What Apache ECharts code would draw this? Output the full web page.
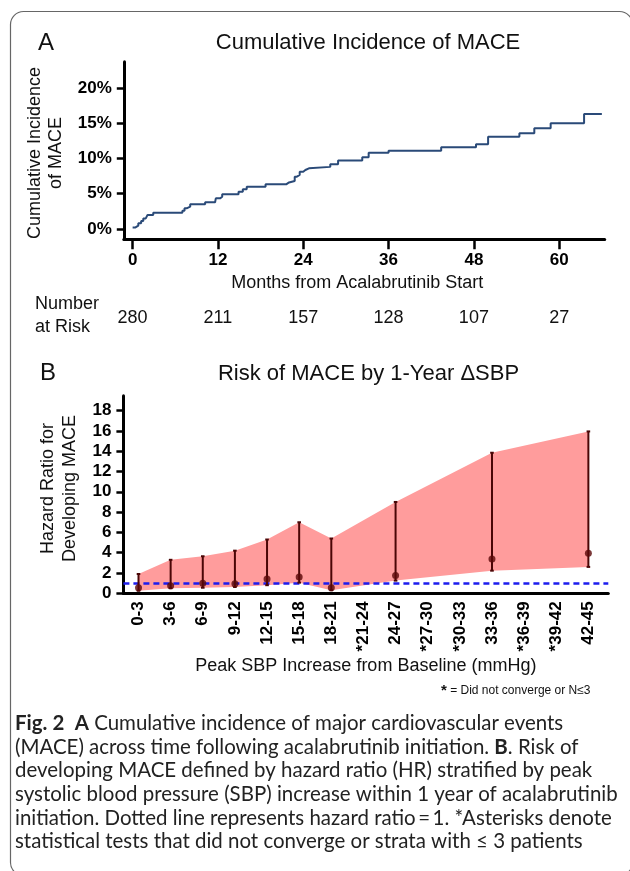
<!DOCTYPE html>
<html><head><meta charset="utf-8">
<script src="https://cdn.jsdelivr.net/npm/echarts@6/dist/echarts.min.js"></script>
<style>html,body{margin:0;padding:0;background:#fff}#c{width:630px;height:871px}</style>
</head><body><div id="c"></div>
<script>
// ---------- Panel A data ----------
const kmMonths = [0,0.35,0.8,1.2,1.5,1.85,2.1,2.9,7.0,7.3,7.6,8.1,10.2,11.6,11.7,12.3,12.6,14.9,15.5,16.05,18.7,21.6,22.0,22.8,23.1,23.5,24.0,24.3,24.8,27.8,28.9,32.3,33.2,36.0,43.4,48.3,50.0,54.4,56.5,58.8,63.5,66.0];
const kmIncidence = [0.2,0.47,0.8,1.13,1.5,1.75,2.0,2.3,2.6,2.93,3.16,3.49,3.78,4.05,4.34,4.58,4.91,5.29,5.62,6.0,6.33,6.6,6.8,7.41,7.65,8.12,8.36,8.59,8.8,9.16,9.7,10.15,10.81,11.1,11.57,12.0,13.08,13.55,14.26,14.97,16.29,16.29];
const monthTicks = [0,12,24,36,48,60];
const atRisk = [280,211,157,128,107,27];
const pctTicks = [0,5,10,15,20];

// ---------- Panel B data ----------
const sbpCategories = ['0-3','3-6','6-9','9-12','12-15','15-18','18-21','*21-24','24-27','*27-30','*30-33','33-36','*36-39','*39-42','42-45'];
const hrPoint = [0.55,0.75,0.98,0.95,1.4,1.6,0.55,null,1.75,null,null,3.38,null,null,3.94];
const hrLower = [0.25,0.5,0.55,0.62,0.8,1.05,0.3,null,1.25,null,null,2.23,null,null,2.6];
const hrUpper = [1.9,3.3,3.65,4.2,5.3,7.0,5.4,null,9.0,null,null,13.85,null,null,15.95];
const hrTicks = [0,2,4,6,8,10,12,14,16,18];
const hrReference = 1;

const FONT = "'Liberation Sans', Arial, sans-serif";
const kmData = kmMonths.map((m, i) => [m, kmIncidence[i]]);
const validIdx = sbpCategories.map((c, i) => i).filter(i => hrPoint[i] !== null);
const ciData = validIdx.map(i => [i, hrLower[i], hrUpper[i]]);
const ptData = validIdx.map(i => [i, hrPoint[i]]);
const catIdx = sbpCategories.map((c, i) => i);

// caption font fitting
const captionLines = [
  '{b|Fig. 2}  {b|A} Cumulative incidence of major cardiovascular events',
  '(MACE) across time following acalabrutinib initiation. {b|B}. Risk of',
  'developing MACE defined by hazard ratio (HR) stratified by peak',
  'systolic blood pressure (SBP) increase within 1 year of acalabrutinib',
  'initiation. Dotted line represents hazard ratio\u2009=\u20091. *Asterisks denote',
  'statistical tests that did not converge or strata with \u2264 3 patients'
];
const CAPFONT = 'Lato';
const cv = document.createElement('canvas').getContext('2d');
cv.font = '19px ' + CAPFONT;
const capSize = 19 * 603 / cv.measureText(captionLines[3]).width;

const chart = echarts.init(document.getElementById('c'), null, {renderer: 'canvas'});

const axisLineStyle = {show: true, onZero: false, lineStyle: {color: '#000', width: 3}};
const boldLabel = {fontFamily: FONT, fontWeight: 'bold', fontSize: 17, color: '#000'};
const nameStyle = {fontFamily: FONT, fontSize: 18, color: '#111'};

const graphics = [
  {type: 'rect', shape: {x: 10.5, y: 11.5, width: 622, height: 864, r: 13}, style: {fill: 'none', stroke: '#666', lineWidth: 1.2}, silent: true},
  {type: 'text', x: 38, y: 43, style: {text: 'A', font: '24px ' + FONT, fill: '#111', verticalAlign: 'middle'}},
  {type: 'text', x: 368, y: 43, style: {text: 'Cumulative Incidence of MACE', font: '22px ' + FONT, fill: '#111', align: 'center', verticalAlign: 'middle'}},
  {type: 'text', x: 35, y: 292.5, style: {text: 'Number\nat Risk', font: '18px ' + FONT, lineHeight: 23, fill: '#111', verticalAlign: 'top'}},
  {type: 'text', x: 40, y: 373.5, style: {text: 'B', font: '24px ' + FONT, fill: '#111', verticalAlign: 'middle'}},
  {type: 'text', x: 368.5, y: 373.5, style: {text: 'Risk of MACE by 1-Year \u0394SBP', font: '22px ' + FONT, fill: '#111', align: 'center', verticalAlign: 'middle'}},
  {type: 'text', x: 590.5, y: 691, style: {text: '{s|*} = Did not converge or N\u22643', font: '12px ' + FONT, fill: '#111', align: 'right', verticalAlign: 'middle',
    rich: {s: {fontSize: 15, fontWeight: 'bold', fontFamily: FONT, fill: '#111'}}}}
];
captionLines.forEach((t, k) => {
  graphics.push({type: 'text', x: 15, y: 723.5 + k * 23.6, style: {
    text: t, fontFamily: CAPFONT, fontSize: capSize, fill: '#222', verticalAlign: 'middle',
    rich: {b: {fontFamily: CAPFONT, fontSize: capSize, fontWeight: 'bold', fill: '#222'}}
  }});
});

const option = {
  animation: false,
  backgroundColor: '#fff',
  grid: [
    {left: 123.8, top: 61.7, width: 480.9, height: 177.6, containLabel: false, outerBoundsMode: 'none'},
    {left: 123.4, top: 395.7, width: 484.9, height: 197.6, containLabel: false, outerBoundsMode: 'none'}
  ],
  xAxis: [
    {gridIndex: 0, type: 'value', min: -1.24, max: 66.4, axisLine: axisLineStyle, splitLine: {show: false},
     axisTick: {show: true, customValues: monthTicks, length: 10, lineStyle: {color: '#000', width: 2.5}},
     axisLabel: Object.assign({customValues: monthTicks, margin: 13}, boldLabel),
     name: 'Months from Acalabrutinib Start', nameLocation: 'middle', nameGap: 35,
     nameTextStyle: Object.assign({padding: [0, 14, 0, 0]}, nameStyle)},
    {gridIndex: 0, type: 'value', min: -1.24, max: 66.4, position: 'bottom', offset: 0,
     axisLine: {show: false, onZero: false}, axisTick: {show: false}, splitLine: {show: false},
     axisLabel: {customValues: monthTicks, margin: 70, fontFamily: FONT, fontSize: 18, color: '#111',
       formatter: v => String(atRisk[monthTicks.indexOf(v)])}},
    {gridIndex: 1, type: 'value', min: -0.47, max: 14.62, axisLine: axisLineStyle, splitLine: {show: false},
     axisTick: {show: false},
     axisLabel: Object.assign({customValues: catIdx, rotate: 90, margin: 8,
       formatter: v => sbpCategories[Math.round(v)]}, boldLabel),
     name: 'Peak SBP Increase from Baseline (mmHg)', nameLocation: 'middle', nameGap: 64,
     nameTextStyle: nameStyle}
  ],
  yAxis: [
    {gridIndex: 0, type: 'value', min: -1.46, max: 23.7, axisLine: axisLineStyle, splitLine: {show: false},
     axisTick: {show: true, customValues: pctTicks, length: 7, lineStyle: {color: '#000', width: 2.5}},
     axisLabel: Object.assign({customValues: pctTicks, margin: 12, formatter: '{value}%'}, boldLabel),
     name: 'Cumulative Incidence\nof MACE', nameLocation: 'middle', nameGap: 41, nameRotate: 90,
     nameTextStyle: Object.assign({lineHeight: 21, padding: [0, 5, 0, 0]}, nameStyle)},
    {gridIndex: 1, type: 'value', min: 0, max: 19.47, axisLine: axisLineStyle, splitLine: {show: false},
     axisTick: {show: true, customValues: hrTicks, length: 7, lineStyle: {color: '#000', width: 2.5}},
     axisLabel: Object.assign({customValues: hrTicks, margin: 12}, boldLabel),
     name: 'Hazard Ratio for\nDeveloping MACE', nameLocation: 'middle', nameGap: 42, nameRotate: 90,
     nameTextStyle: Object.assign({lineHeight: 22, padding: [0, 0, 0, 12]}, nameStyle)}
  ],
  series: [
    {type: 'line', name: 'MACE', xAxisIndex: 0, yAxisIndex: 0, step: 'end', data: kmData,
     symbol: 'none', lineStyle: {color: '#2a4a78', width: 2}, silent: true, z: 3},
    {type: 'custom', name: 'band', xAxisIndex: 2, yAxisIndex: 1, data: ciData, z: 1, silent: true,
     encode: {x: 0, y: [1, 2]},
     renderItem: function (params, api) {
       if (params.dataIndex !== 0) return null;
       const top = ciData.map(d => api.coord([d[0], d[2]]));
       const bot = ciData.map(d => api.coord([d[0], d[1]])).reverse();
       return {type: 'polygon', shape: {points: top.concat(bot)}, style: {fill: '#ff9c9c'}};
     }},
    {type: 'custom', name: 'ci', xAxisIndex: 2, yAxisIndex: 1, data: ciData, z: 6, silent: true,
     encode: {x: 0, y: [1, 2]},
     renderItem: function (params, api) {
       const x = api.value(0);
       const lo = api.coord([x, api.value(1)]);
       const hi = api.coord([x, api.value(2)]);
       const st = {stroke: '#4a0606', lineWidth: 2};
       return {type: 'group', children: [
         {type: 'line', shape: {x1: lo[0], y1: lo[1], x2: hi[0], y2: hi[1]}, style: st},
         {type: 'line', shape: {x1: hi[0] - 1.8, y1: hi[1], x2: hi[0] + 1.8, y2: hi[1]}, style: st},
         {type: 'line', shape: {x1: lo[0] - 1.8, y1: lo[1], x2: lo[0] + 1.8, y2: lo[1]}, style: st}
       ]};
     }},
    {type: 'scatter', name: 'HR', xAxisIndex: 2, yAxisIndex: 1, data: ptData, z: 7, silent: true,
     symbol: 'circle', symbolSize: 7, itemStyle: {color: '#5a0808'},
     markLine: {silent: true, symbol: ['none', 'none'], label: {show: false}, z: 5,
       lineStyle: {type: [6, 4], color: '#1d1dee', width: 2.6},
       emphasis: {disabled: true},
       data: [{yAxis: hrReference}]}}
  ],
  graphic: graphics
};
chart.setOption(option);
</script>
</body></html>
